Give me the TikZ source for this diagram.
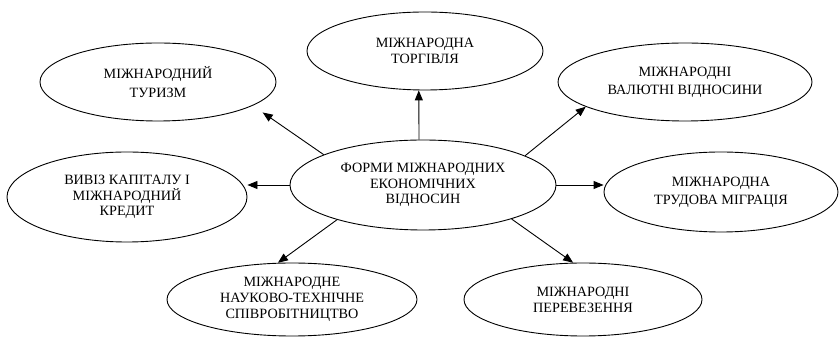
\documentclass[tikz,border=0pt]{standalone}
\usepackage{fontspec}
\setmainfont{Liberation Serif}
\newfontfamily\formfont{Liberation Serif}
\usetikzlibrary{arrows.meta,calc,shapes.geometric}
\tikzset{
  form/.style={draw,ellipse,line width=0.9pt,inner sep=0pt,align=center,
    font=\formfont\fontsize{14.2pt}{15.8pt}\selectfont},
  mainform/.style={form,minimum width=266pt,minimum height=90pt},
  link/.style={-{Triangle[length=10pt,width=8pt]},line width=0.9pt}
}

\begin{document}
\begin{tikzpicture}[x=1pt,y=1pt]
  \useasboundingbox (0,0) rectangle (839,337);
  \node[mainform] (forms) at (423,152) {ФОРМИ МІЖНАРОДНИХ\\ЕКОНОМІЧНИХ\\ВІДНОСИН};
  \node[form,minimum width=236pt,minimum height=78pt] (trade) at (425,286) {МІЖНАРОДНА\\ТОРГІВЛЯ};
  \node[form,minimum width=236pt,minimum height=78pt] (tourism) at (158,255) {МІЖНАРОДНИЙ\\[4pt]ТУРИЗМ};
  \node[form,minimum width=254pt,minimum height=78pt] (currency) at (685,255) {МІЖНАРОДНІ\\[2.5pt]ВАЛЮТНІ ВІДНОСИНИ};
  \node[form,minimum width=240pt,minimum height=90pt] (capital) at (127,140) {ВИВІЗ КАПІТАЛУ І\\МІЖНАРОДНИЙ\\КРЕДИТ};
  \node[form,minimum width=234pt,minimum height=80pt] (labour) at (721,145) {МІЖНАРОДНА\\[2.5pt]ТРУДОВА МІГРАЦІЯ};
  \node[form,minimum width=250pt,minimum height=73pt] (science) at (292,37.5) {МІЖНАРОДНЕ\\НАУКОВО-ТЕХНІЧНЕ\\СПІВРОБІТНИЦТВО};
  \node[form,minimum width=238pt,minimum height=73pt] (transport) at (583,37.5) {МІЖНАРОДНІ\\ПЕРЕВЕЗЕННЯ};
  \draw[link,shorten >=12pt] (forms.163) -- (tourism.-14);
  \draw[link] (forms.95) -- (trade.261);
  \draw[link] (forms.16) -- (currency.194);
  \draw[link] (forms.west) -- (forms.west -| capital.east);
  \draw[link] (forms.east) -- (forms.east -| labour.west);
  \draw[link] (forms.202) -- (science.111);
  \draw[link] (forms.-21) -- (transport.105);
\end{tikzpicture}
\end{document}
